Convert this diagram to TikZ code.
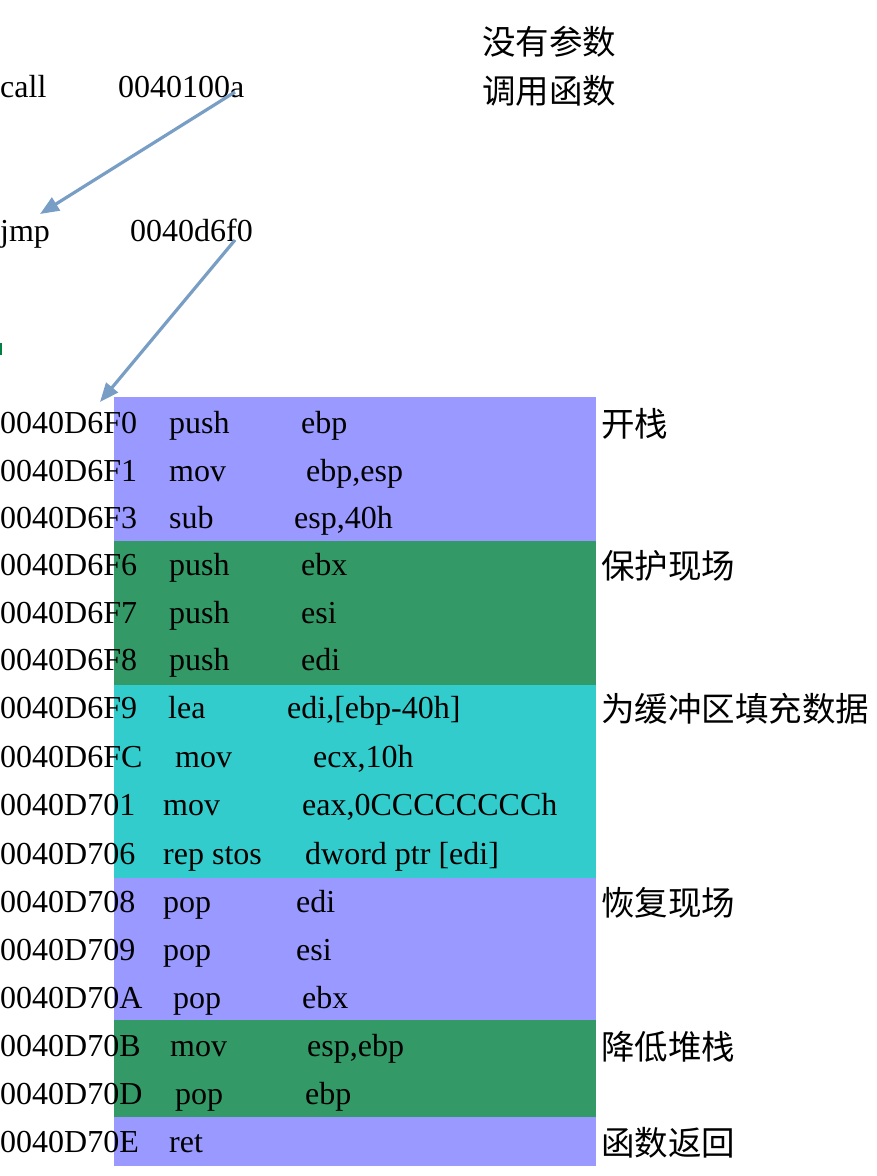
\documentclass[tikz,border=0pt]{standalone}
\usepackage{fontspec}
\setmainfont{Liberation Serif}
\newfontfamily\cjk{Noto Sans CJK SC}
\usetikzlibrary{arrows.meta}
\definecolor{bandpurple}{HTML}{9999FF}
\definecolor{bandgreen}{HTML}{339966}
\definecolor{bandcyan}{HTML}{33CCCC}
\definecolor{arrowblue}{HTML}{789EC6}
\definecolor{markgreen}{HTML}{008040}
\begin{document}
\begin{tikzpicture}[x=1pt,y=-1pt,
  txt/.style={anchor=base west,inner sep=0pt,font=\fontsize{32}{38}\selectfont},
  cjktxt/.style={anchor=base west,inner sep=0pt,font=\fontsize{33.5}{38}\selectfont\cjk},
  jumparrow/.style={draw=arrowblue,line width=3.2pt,-{Triangle[length=19pt,width=15pt]}}]
\useasboundingbox (0,0) rectangle (876,1176);
% colour bands
\fill[bandpurple] (114,397) rectangle (596,541);
\fill[bandgreen]  (114,541) rectangle (596,685);
\fill[bandcyan]   (114,685) rectangle (596,878);
\fill[bandpurple] (114,878) rectangle (596,1020);
\fill[bandgreen]  (114,1020) rectangle (596,1117);
\fill[bandpurple] (114,1117) rectangle (596,1166);
% small green mark
\fill[markgreen] (0,343) rectangle (2,355);
% top lines
\node[txt] (call) at (0,97) {call};
\node[txt] (calladdr) at (118,97) {0040100a};
\node[txt] (jmp) at (0,241) {jmp};
\node[txt] (jmpaddr) at (130,241) {0040d6f0};
\node[cjktxt] (note1) at (482,54) {没有参数};
\node[cjktxt] (note2) at (482,103) {调用函数};
% rows
\node[txt] (a1) at (0,433) {0040D6F0};  \node[txt] (m1) at (169,433) {push}; \node[txt] (o1) at (301,433) {ebp};
\node[txt] (a2) at (0,481) {0040D6F1};  \node[txt] (m2) at (169,481) {mov};  \node[txt] (o2) at (306,481) {ebp,esp};
\node[txt] (a3) at (0,528) {0040D6F3};  \node[txt] (m3) at (169,528) {sub};  \node[txt] (o3) at (294,528) {esp,40h};
\node[txt] (a4) at (0,575) {0040D6F6};  \node[txt] (m4) at (169,575) {push}; \node[txt] (o4) at (301,575) {ebx};
\node[txt] (a5) at (0,623) {0040D6F7};  \node[txt] (m5) at (169,623) {push}; \node[txt] (o5) at (301,623) {esi};
\node[txt] (a6) at (0,670) {0040D6F8};  \node[txt] (m6) at (169,670) {push}; \node[txt] (o6) at (301,670) {edi};
\node[txt] (a7) at (0,718) {0040D6F9};  \node[txt] (m7) at (168,718) {lea};  \node[txt] (o7) at (287,718) {edi,[ebp-40h]};
\node[txt] (a8) at (0,767) {0040D6FC};  \node[txt] (m8) at (175,767) {mov};  \node[txt] (o8) at (313,767) {ecx,10h};
\node[txt] (a9) at (0,815) {0040D701};  \node[txt] (m9) at (163,815) {mov};  \node[txt] (o9) at (302,815) {eax,0CCCCCCCCh};
\node[txt] (a10) at (0,864) {0040D706}; \node[txt] (m10) at (163,864) {rep stos}; \node[txt] (o10) at (305,864) {dword ptr [edi]};
\node[txt] (a11) at (0,912) {0040D708}; \node[txt] (m11) at (163,912) {pop}; \node[txt] (o11) at (296,912) {edi};
\node[txt] (a12) at (0,960) {0040D709}; \node[txt] (m12) at (163,960) {pop}; \node[txt] (o12) at (296,960) {esi};
\node[txt] (a13) at (0,1008) {0040D70A}; \node[txt] (m13) at (173,1008) {pop}; \node[txt] (o13) at (302,1008) {ebx};
\node[txt] (a14) at (0,1056) {0040D70B}; \node[txt] (m14) at (170,1056) {mov}; \node[txt] (o14) at (307,1056) {esp,ebp};
\node[txt] (a15) at (0,1104) {0040D70D}; \node[txt] (m15) at (175,1104) {pop}; \node[txt] (o15) at (305,1104) {ebp};
\node[txt] (a16) at (0,1152) {0040D70E}; \node[txt] (m16) at (169,1152) {ret};
% right labels
\node[cjktxt] (l1) at (601,436) {开栈};
\node[cjktxt] (l2) at (601,578) {保护现场};
\node[cjktxt] (l3) at (601,721) {为缓冲区填充数据};
\node[cjktxt] (l4) at (601,915) {恢复现场};
\node[cjktxt] (l5) at (601,1059) {降低堆栈};
\node[cjktxt] (l6) at (601,1155) {函数返回};
% arrows
\coordinate (s1) at (235,92);
\coordinate (t1) at (40,214);
\coordinate (s2) at (235,240);
\coordinate (t2) at (100,402);
\draw[jumparrow] (s1) -- (t1);
\draw[jumparrow] (s2) -- (t2);
\end{tikzpicture}
\end{document}
